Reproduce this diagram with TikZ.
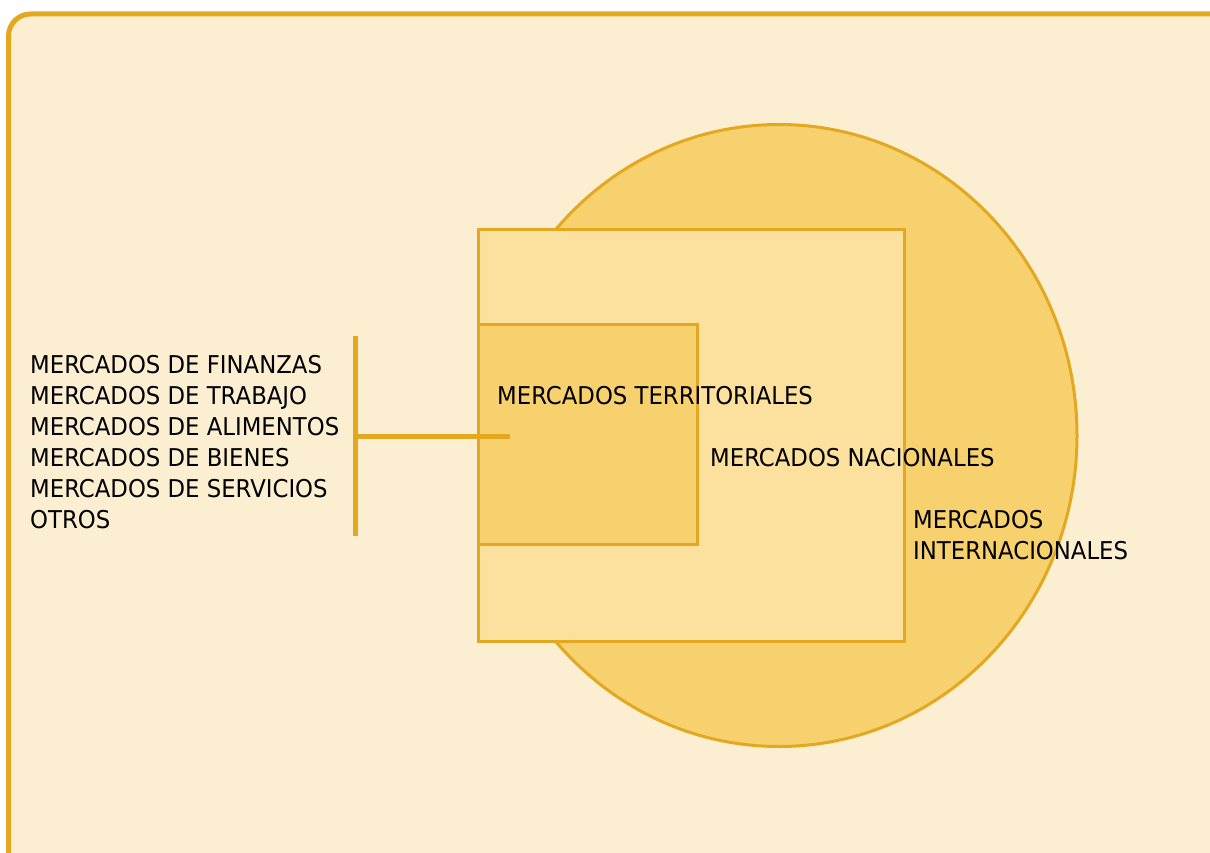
\documentclass[tikz,border=0pt]{standalone}
\usepackage{fontspec}
\setmainfont{DejaVu Sans}[FakeStretch=0.93]
\definecolor{bgc}{RGB}{252,239,209}
\definecolor{edge}{RGB}{227,168,31}
\definecolor{deep}{RGB}{248,209,111}
\definecolor{light}{RGB}{252,224,157}
\tikzset{
  txt/.style={anchor=base west, inner sep=0pt, font=\fontsize{24.5}{31}\selectfont, text=black},
  shapeline/.style={draw=edge, line width=3pt},
  bar/.style={draw=edge, line width=5pt}
}
\begin{document}
\begin{tikzpicture}[x=1pt,y=-1pt]
\useasboundingbox (0,0) rectangle (1210,853);
\clip (0,0) rectangle (1210,853);
\fill[white] (0,0) rectangle (1210,853);
% frame
\draw[draw=edge, fill=bgc, line width=5pt, rounded corners=22pt] (8.5,14) rectangle (1240,900);
% international circle
\draw[shapeline, fill=deep] (779,435.5) ellipse [x radius=298pt, y radius=311pt];
% national square
\draw[shapeline, fill=light] (478,230) rectangle (904,641);
% territorial square
\draw[shapeline, fill=deep] (478,324) rectangle (697,544);
% bracket
\coordinate (btop) at (355,336);
\coordinate (bbot) at (355,536);
\coordinate (bmid) at (355,436);
\coordinate (bend) at (510,436);
\draw[bar] (btop) -- (bbot);
\draw[bar] (bmid) -- (bend);
% left list
\node[txt] (l1) at (30,373) {MERCADOS DE FINANZAS};
\node[txt] (l2) at (30,404) {MERCADOS DE TRABAJO};
\node[txt] (l3) at (30,435) {MERCADOS DE ALIMENTOS};
\node[txt] (l4) at (30,466) {MERCADOS DE BIENES};
\node[txt] (l5) at (30,497) {MERCADOS DE SERVICIOS};
\node[txt] (l6) at (30,528) {OTROS};
% labels
\node[txt] (terr) at (497,404) {MERCADOS TERRITORIALES};
\node[txt] (nac) at (710,466) {MERCADOS NACIONALES};
\node[txt] (int1) at (913,528) {MERCADOS};
\node[txt] (int2) at (913,559) {INTERNACIONALES};
\end{tikzpicture}
\end{document}
